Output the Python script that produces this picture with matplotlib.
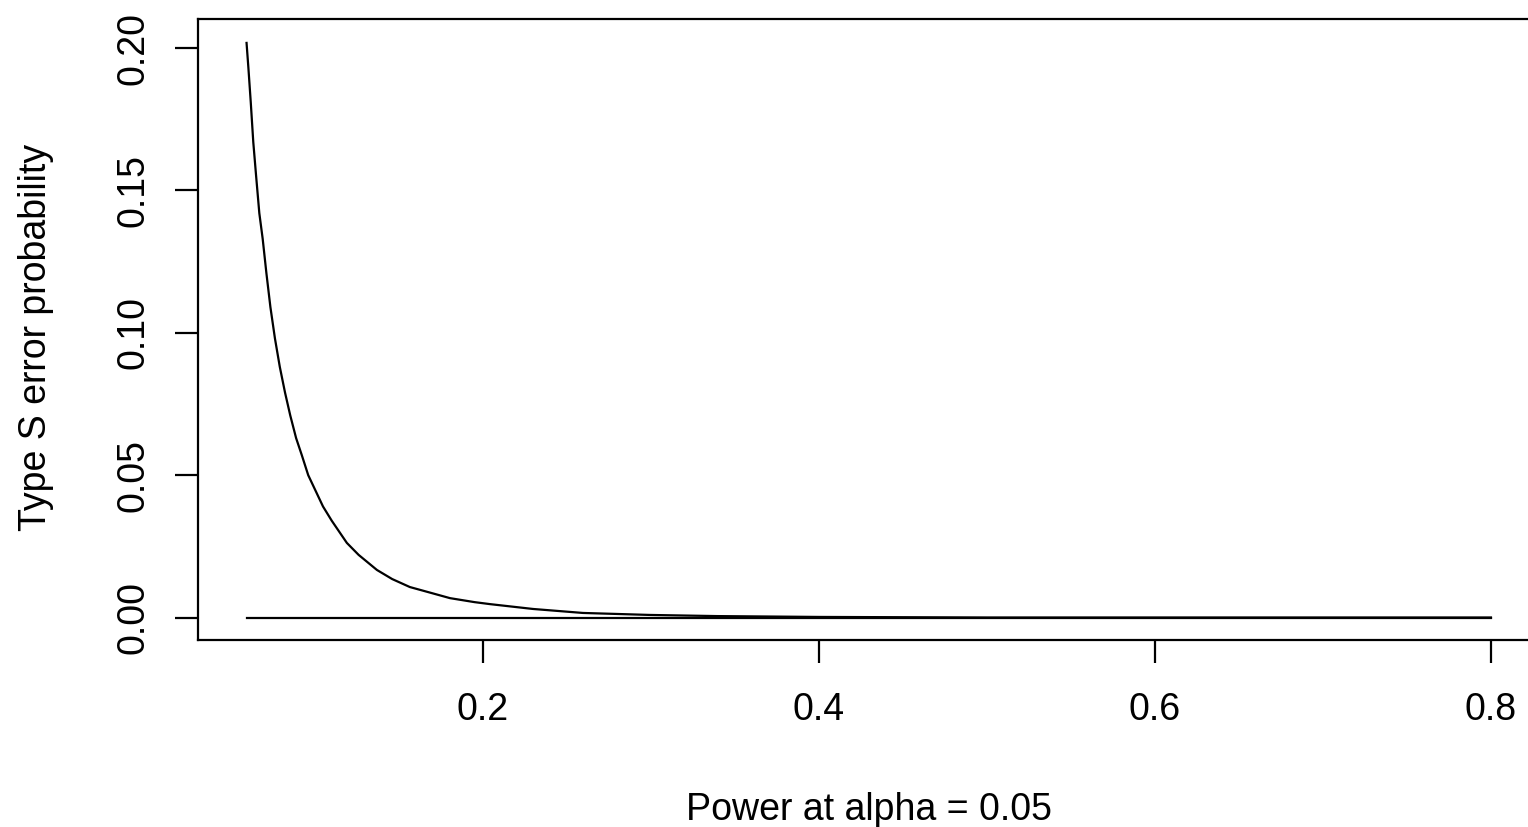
import matplotlib
matplotlib.use("Agg")
import matplotlib.pyplot as plt

# %% Data
power = [0.0593, 0.0604, 0.0618, 0.0633, 0.0650, 0.0669, 0.0689, 0.0711, 0.0735,
         0.0762, 0.0791, 0.0822, 0.0853, 0.0888, 0.0922, 0.0960, 0.1000, 0.1048,
         0.1100, 0.1190, 0.1260, 0.1369, 0.1460, 0.1565, 0.1700, 0.1804, 0.1950,
         0.2042, 0.2298, 0.2595, 0.2994, 0.3393, 0.40, 0.45, 0.50, 0.60, 0.70, 0.80]
type_s = [0.2018, 0.193, 0.181, 0.167, 0.155, 0.142, 0.133, 0.121, 0.109,
          0.098, 0.088, 0.079, 0.071, 0.063, 0.057, 0.050, 0.045, 0.039,
          0.034, 0.0262, 0.022, 0.0167, 0.0135, 0.0107, 0.0085, 0.0068, 0.0054,
          0.0047, 0.0030, 0.0016, 0.0009, 0.0005, 0.0002, 0.0001, 0.0, 0.0, 0.0, 0.0]
zero_x = [0.0593, 0.80]
zero_y = [0.0, 0.0]
xticks = [0.2, 0.4, 0.6, 0.8]
yticks = [0.00, 0.05, 0.10, 0.15, 0.20]
ytick_labels = ["0.00", "0.05", "0.10", "0.15", "0.20"]

# %% Style
FONT = "Liberation Sans"
FS = 27
LW = 1.6
plt.rcParams.update({
    "font.family": FONT,
    "font.size": FS,
    "axes.linewidth": LW,
})

# %% Plot
W, H = 1528, 827
fig = plt.figure(figsize=(W / 100, H / 100), dpi=100)
# plot box runs past the right edge of the picture, as in the reference
ax = fig.add_axes([198 / W, 187 / H, 1343 / W, 621 / H])

ax.plot(power, type_s, color="black", linewidth=LW)
ax.plot(zero_x, zero_y, color="black", linewidth=LW)

ax.set_xlim(0.0304, 0.8298)
ax.set_ylim(-0.0079, 0.2102)
ax.set_xticks(xticks)
ax.set_xticklabels([f"{v:.1f}" for v in xticks])
ax.set_yticks(yticks)
ax.set_yticklabels(ytick_labels, rotation=90, va="center")
ax.tick_params(axis="both", direction="out", length=16.6, width=LW,
               labelsize=FS, color="black")
ax.tick_params(axis="x", pad=21)
ax.tick_params(axis="y", pad=17)

fig.text(869 / W, (H - 820) / H, "Power at alpha = 0.05", ha="center",
         va="baseline", fontsize=FS)
fig.text(46 / W, 1 - 337 / H, "Type S error probability", rotation=90,
         rotation_mode="anchor", ha="center", va="baseline", fontsize=FS)

fig.savefig("out.png", dpi=100)
